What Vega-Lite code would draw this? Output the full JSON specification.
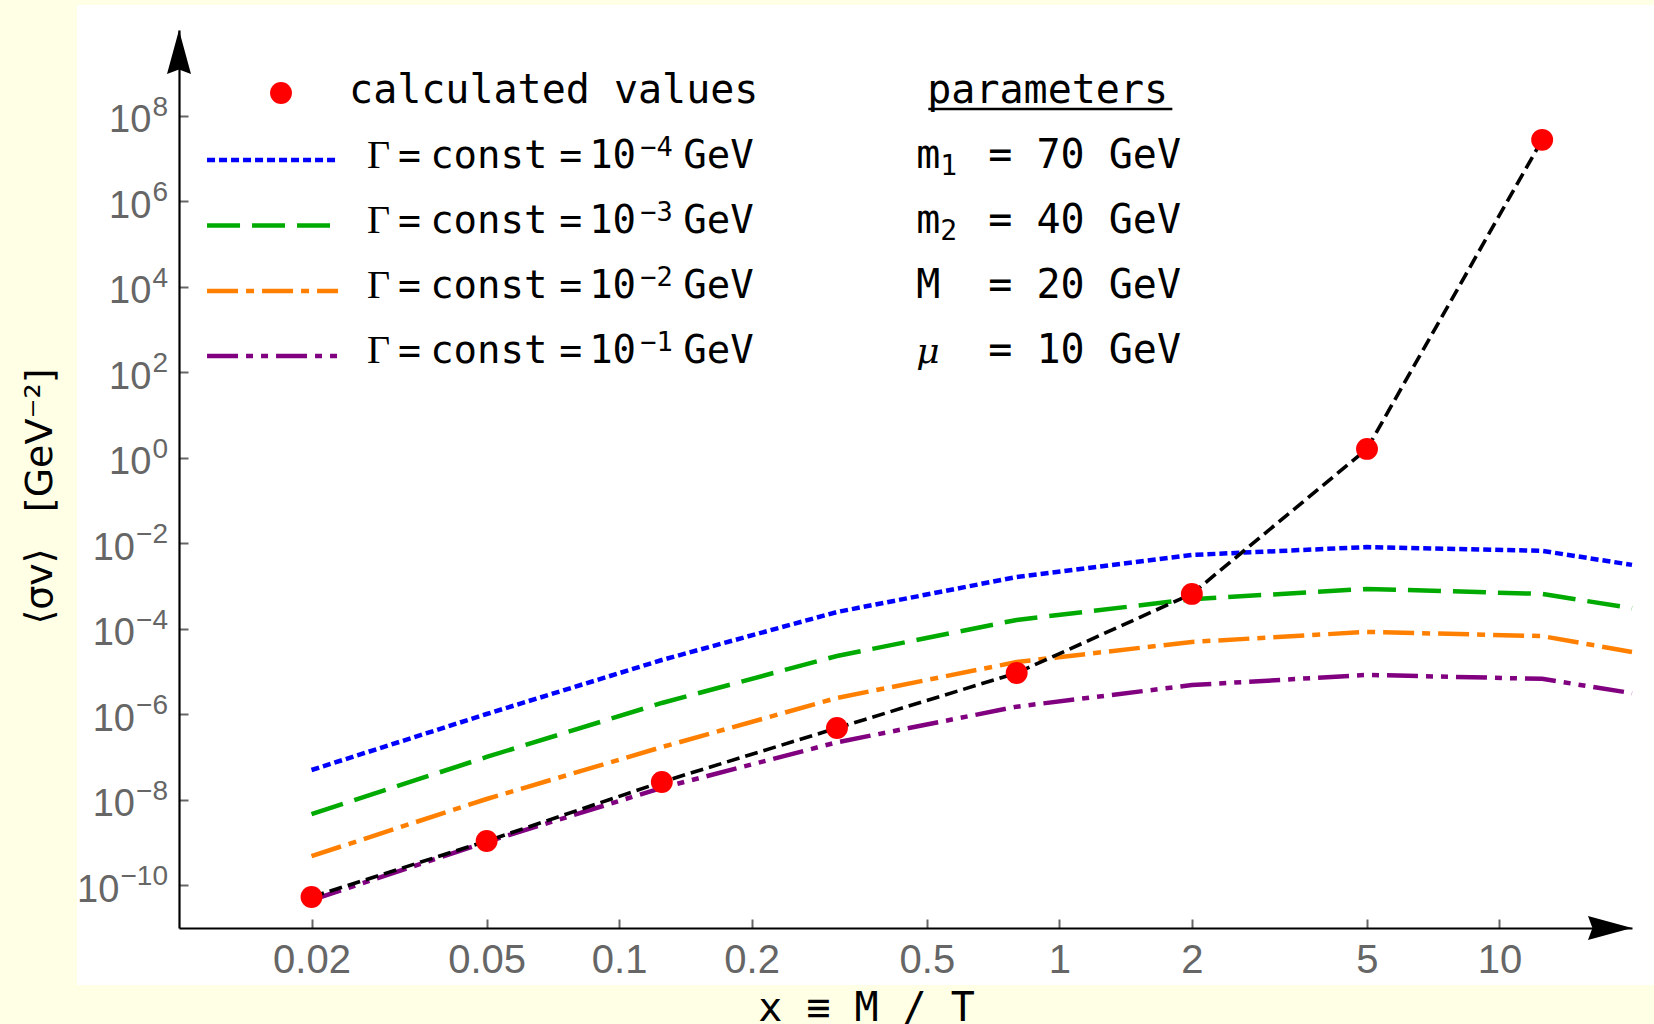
{
  "$schema": "https://vega.github.io/schema/vega-lite/v6.json",
  "width": 1453,
  "height": 898,
  "autosize": {"type": "none"},
  "padding": {"left": 179, "top": 30, "right": 22, "bottom": 96},
  "background": "#ffffe5",
  "config": {"view": {"stroke": null}, "axis": {"zindex": 1}},
  "datasets": {
    "curves": [
      {"s": "g4", "x": 0.02, "y": 4.95e-8}, {"s": "g4", "x": 0.05, "y": 1.01e-6}, {"s": "g4", "x": 0.125, "y": 1.85e-5}, {"s": "g4", "x": 0.3125, "y": 2.45e-4}, {"s": "g4", "x": 0.8, "y": 1.62e-3}, {"s": "g4", "x": 2, "y": 5.3e-3}, {"s": "g4", "x": 5, "y": 8.1e-3}, {"s": "g4", "x": 12.5, "y": 6.6e-3}, {"s": "g4", "x": 20, "y": 3.1e-3},
      {"s": "g3", "x": 0.02, "y": 4.6e-9}, {"s": "g3", "x": 0.05, "y": 1.0e-7}, {"s": "g3", "x": 0.125, "y": 1.83e-6}, {"s": "g3", "x": 0.3125, "y": 2.3e-5}, {"s": "g3", "x": 0.8, "y": 1.6e-4}, {"s": "g3", "x": 2, "y": 4.9e-4}, {"s": "g3", "x": 5, "y": 8.5e-4}, {"s": "g3", "x": 12.5, "y": 6.5e-4}, {"s": "g3", "x": 20, "y": 3.0e-4},
      {"s": "g2", "x": 0.02, "y": 4.8e-10}, {"s": "g2", "x": 0.05, "y": 1.04e-8}, {"s": "g2", "x": 0.125, "y": 1.7e-7}, {"s": "g2", "x": 0.3125, "y": 2.4e-6}, {"s": "g2", "x": 0.8, "y": 1.66e-5}, {"s": "g2", "x": 2, "y": 4.9e-5}, {"s": "g2", "x": 5, "y": 8.4e-5}, {"s": "g2", "x": 12.5, "y": 6.7e-5}, {"s": "g2", "x": 20, "y": 2.85e-5},
      {"s": "g1", "x": 0.02, "y": 4.5e-11}, {"s": "g1", "x": 0.05, "y": 1.03e-9}, {"s": "g1", "x": 0.125, "y": 1.9e-8}, {"s": "g1", "x": 0.3125, "y": 2.2e-7}, {"s": "g1", "x": 0.8, "y": 1.5e-6}, {"s": "g1", "x": 2, "y": 4.8e-6}, {"s": "g1", "x": 5, "y": 8.3e-6}, {"s": "g1", "x": 12.5, "y": 6.7e-6}, {"s": "g1", "x": 20, "y": 3.1e-6}
    ],
    "calc": [
      {"x": 0.02, "y": 5.3e-11}, {"x": 0.05, "y": 1.08e-9}, {"x": 0.125, "y": 2.6e-8}, {"x": 0.3125, "y": 4.75e-7},
      {"x": 0.8, "y": 9.2e-6}, {"x": 2, "y": 6.5e-4}, {"x": 5, "y": 1.6}, {"x": 12.5, "y": 2.7e7}
    ],
    "yt": [
      {"v": 1e8, "e": "8"}, {"v": 1e6, "e": "6"}, {"v": 1e4, "e": "4"}, {"v": 100, "e": "2"}, {"v": 1, "e": "0"},
      {"v": 1e-2, "e": "−2"}, {"v": 1e-4, "e": "−4"}, {"v": 1e-6, "e": "−6"}, {"v": 1e-8, "e": "−8"}, {"v": 1e-10, "e": "−10"}
    ],
    "leg": [
      {"s": "g4", "ly": 9.12e6, "ty": 5.93e6, "e": "−4"},
      {"s": "g3", "ly": 2.68e5, "ty": 1.79e5, "e": "−3"},
      {"s": "g2", "ly": 7.88e3, "ty": 5.41e3, "e": "−2"},
      {"s": "g1", "ly": 237.7, "ty": 163.3, "e": "−1"}
    ],
    "par": [
      {"sym": "m", "sub": "1", "rest": "= 70 GeV", "ty": 5.93e6},
      {"sym": "m", "sub": "2", "rest": "= 40 GeV", "ty": 1.79e5},
      {"sym": "M", "sub": "", "rest": "= 20 GeV", "ty": 5.41e3},
      {"sym": "μ", "sub": "", "rest": "= 10 GeV", "ty": 163.3}
    ]
  },
  "layer": [
    {
      "data": {"values": [{}]},
      "mark": {"type": "rect", "fill": "#ffffff", "clip": false},
      "encoding": {
        "x": {"datum": 0.005865, "type": "quantitative"},
        "x2": {"datum": 40},
        "y": {"datum": 3.86e10, "type": "quantitative"},
        "y2": {"datum": 4.64e-13}
      }
    },
    {
      "data": {"name": "curves"},
      "mark": {"type": "line", "strokeWidth": 4.5, "strokeCap": "butt", "clip": false},
      "encoding": {
        "x": {
          "field": "x", "type": "quantitative",
          "scale": {"type": "log", "domain": [0.01, 20], "nice": false},
          "axis": {
            "zindex": 2,
            "values": [0.02, 0.05, 0.1, 0.2, 0.5, 1, 2, 5, 10],
            "format": ".2~f",
            "labelFont": "Liberation Sans", "labelFontSize": 40, "labelColor": "#666666",
            "labelPadding": 21, "labelFlush": false, "labelOverlap": false, "labelBaseline": "top",
            "tickSize": -9, "tickColor": "#666666", "tickWidth": 2,
            "domainColor": "#000000", "domainWidth": 2.2, "grid": false,
            "title": "x ≡ M / T", "titleFont": "DejaVu Sans Mono", "titleFontSize": 40, "titleFontWeight": "normal",
            "titleColor": "#000000", "titleX": 687, "titleY": 92, "titleAlign": "center", "titleBaseline": "alphabetic"
          }
        },
        "y": {
          "field": "y", "type": "quantitative",
          "scale": {"type": "log", "domain": [1e-11, 1e10], "nice": false},
          "axis": {
            "zindex": 2,
            "values": [1e-10, 1e-8, 1e-6, 1e-4, 1e-2, 1, 100, 1e4, 1e6, 1e8],
            "labels": false,
            "tickSize": -9, "tickColor": "#666666", "tickWidth": 2,
            "domainColor": "#000000", "domainWidth": 2.2, "grid": false,
            "title": "⟨σv⟩\u00a0\u00a0\u00a0[GeV⁻²]", "titleFont": "DejaVu Sans", "titleFontSize": 38, "titleFontWeight": "normal",
            "titleColor": "#000000", "titleX": -139, "titleY": 466, "titleAngle": 270, "titleAlign": "center", "titleBaseline": "middle"
          }
        },
        "color": {"field": "s", "type": "nominal", "scale": {"domain": ["g4", "g3", "g2", "g1"], "range": ["#0000ff", "#00aa00", "#ff8000", "#800080"]}, "legend": null},
        "strokeDash": {"field": "s", "type": "nominal", "scale": {"domain": ["g4", "g3", "g2", "g1"], "range": [[8, 4], [33, 12], [31, 8, 8, 8], [31, 8, 7, 8, 7, 8]]}, "legend": null}
      }
    },
    {
      "data": {"name": "yt"},
      "transform": [{"filter": "length(datum.e) == 1"}],
      "mark": {"type": "text", "text": "10", "font": "Liberation Sans", "fontSize": 38, "fill": "#666666", "align": "right", "baseline": "alphabetic", "dx": -27.6, "dy": 16.5},
      "encoding": {"x": {"datum": 0.01, "type": "quantitative"}, "y": {"field": "v", "type": "quantitative"}}
    },
    {
      "data": {"name": "yt"},
      "transform": [{"filter": "length(datum.e) == 2"}],
      "mark": {"type": "text", "text": "10", "font": "Liberation Sans", "fontSize": 38, "fill": "#666666", "align": "right", "baseline": "alphabetic", "dx": -44, "dy": 16.5},
      "encoding": {"x": {"datum": 0.01, "type": "quantitative"}, "y": {"field": "v", "type": "quantitative"}}
    },
    {
      "data": {"name": "yt"},
      "transform": [{"filter": "length(datum.e) == 3"}],
      "mark": {"type": "text", "text": "10", "font": "Liberation Sans", "fontSize": 38, "fill": "#666666", "align": "right", "baseline": "alphabetic", "dx": -59.6, "dy": 16.5},
      "encoding": {"x": {"datum": 0.01, "type": "quantitative"}, "y": {"field": "v", "type": "quantitative"}}
    },
    {
      "data": {"name": "yt"},
      "mark": {"type": "text", "font": "Liberation Sans", "fontSize": 28, "fill": "#666666", "align": "right", "baseline": "alphabetic", "dx": -11, "dy": 0},
      "encoding": {"x": {"datum": 0.01, "type": "quantitative"}, "y": {"field": "v", "type": "quantitative"}, "text": {"field": "e"}}
    },
    {
      "data": {"name": "calc"},
      "mark": {"type": "line", "color": "#000000", "strokeWidth": 3.6, "strokeDash": [13, 6], "strokeCap": "butt"},
      "encoding": {
        "x": {"field": "x", "type": "quantitative"},
        "y": {"field": "y", "type": "quantitative"}
      }
    },
    {
      "data": {"name": "calc"},
      "mark": {"type": "point", "shape": "circle", "filled": true, "fill": "#ff0000", "opacity": 1, "size": 480},
      "encoding": {
        "x": {"field": "x", "type": "quantitative"},
        "y": {"field": "y", "type": "quantitative"}
      }
    },
    {
      "data": {"name": "leg"},
      "mark": {"type": "rule", "strokeWidth": 4.5, "strokeCap": "butt"},
      "encoding": {
        "x": {"datum": 0.01158, "type": "quantitative"},
        "x2": {"datum": 0.02298},
        "y": {"field": "ly", "type": "quantitative"},
        "color": {"field": "s", "type": "nominal", "legend": null},
        "strokeDash": {"field": "s", "type": "nominal", "legend": null}
      }
    },
    {
      "data": {"values": [{}]},
      "mark": {"type": "point", "shape": "circle", "filled": true, "fill": "#ff0000", "opacity": 1, "size": 480},
      "encoding": {
        "x": {"datum": 0.01705, "type": "quantitative"},
        "y": {"datum": 3.36e8, "type": "quantitative"}
      }
    },
    {
      "data": {"values": [{}]},
      "mark": {"type": "text", "text": "calculated values", "font": "DejaVu Sans Mono", "fontSize": 40, "align": "left", "baseline": "alphabetic", "fill": "#000000"},
      "encoding": {
        "x": {"datum": 0.02434, "type": "quantitative"},
        "y": {"datum": 1.963e8, "type": "quantitative"}
      }
    },
    {
      "data": {"name": "leg"},
      "mark": {"type": "text", "text": "Γ", "font": "Liberation Serif", "fontSize": 40, "align": "left", "baseline": "alphabetic", "fill": "#000000"},
      "encoding": {"x": {"datum": 0.02675, "type": "quantitative"}, "y": {"field": "ty", "type": "quantitative"}}
    },
    {
      "data": {"name": "leg"},
      "mark": {"type": "text", "text": "=", "font": "DejaVu Sans Mono", "fontSize": 38, "align": "left", "baseline": "alphabetic", "fill": "#000000"},
      "encoding": {"x": {"datum": 0.03146, "type": "quantitative"}, "y": {"field": "ty", "type": "quantitative"}}
    },
    {
      "data": {"name": "leg"},
      "mark": {"type": "text", "text": "const", "font": "DejaVu Sans Mono", "fontSize": 39, "align": "left", "baseline": "alphabetic", "fill": "#000000"},
      "encoding": {"x": {"datum": 0.0372, "type": "quantitative"}, "y": {"field": "ty", "type": "quantitative"}}
    },
    {
      "data": {"name": "leg"},
      "mark": {"type": "text", "text": "=", "font": "DejaVu Sans Mono", "fontSize": 38, "align": "left", "baseline": "alphabetic", "fill": "#000000"},
      "encoding": {"x": {"datum": 0.07306, "type": "quantitative"}, "y": {"field": "ty", "type": "quantitative"}}
    },
    {
      "data": {"name": "leg"},
      "mark": {"type": "text", "text": "10", "font": "DejaVu Sans Mono", "fontSize": 39, "align": "left", "baseline": "alphabetic", "fill": "#000000"},
      "encoding": {"x": {"datum": 0.08546, "type": "quantitative"}, "y": {"field": "ty", "type": "quantitative"}}
    },
    {
      "data": {"name": "leg"},
      "mark": {"type": "text", "font": "DejaVu Sans Mono", "fontSize": 27, "align": "left", "baseline": "alphabetic", "fill": "#000000", "dy": -12},
      "encoding": {"x": {"datum": 0.1116, "type": "quantitative"}, "y": {"field": "ty", "type": "quantitative"}, "text": {"field": "e"}}
    },
    {
      "data": {"name": "leg"},
      "mark": {"type": "text", "text": "GeV", "font": "DejaVu Sans Mono", "fontSize": 39, "align": "left", "baseline": "alphabetic", "fill": "#000000"},
      "encoding": {"x": {"datum": 0.1398, "type": "quantitative"}, "y": {"field": "ty", "type": "quantitative"}}
    },
    {
      "data": {"values": [{}]},
      "mark": {"type": "text", "text": "parameters", "font": "DejaVu Sans Mono", "fontSize": 40, "align": "left", "baseline": "alphabetic", "fill": "#000000"},
      "encoding": {
        "x": {"datum": 0.5012, "type": "quantitative"},
        "y": {"datum": 1.963e8, "type": "quantitative"}
      }
    },
    {
      "data": {"values": [{}]},
      "mark": {"type": "rule", "color": "#000000", "strokeWidth": 2.5},
      "encoding": {
        "x": {"datum": 0.5039, "type": "quantitative"},
        "x2": {"datum": 1.806},
        "y": {"datum": 1.42e8, "type": "quantitative"}
      }
    },
    {
      "data": {"name": "par"},
      "transform": [{"filter": "datum.sym != 'μ'"}],
      "mark": {"type": "text", "font": "DejaVu Sans Mono", "fontSize": 40, "align": "left", "baseline": "alphabetic", "fill": "#000000"},
      "encoding": {"x": {"datum": 0.4732, "type": "quantitative"}, "y": {"field": "ty", "type": "quantitative"}, "text": {"field": "sym"}}
    },
    {
      "data": {"name": "par"},
      "mark": {"type": "text", "font": "DejaVu Sans Mono", "fontSize": 28, "align": "left", "baseline": "alphabetic", "fill": "#000000", "dx": 24, "dy": 7},
      "encoding": {"x": {"datum": 0.4732, "type": "quantitative"}, "y": {"field": "ty", "type": "quantitative"}, "text": {"field": "sub"}}
    },
    {
      "data": {"name": "par"},
      "transform": [{"filter": "datum.sym == 'μ'"}],
      "mark": {"type": "text", "font": "DejaVu Serif", "fontStyle": "italic", "fontSize": 36, "align": "left", "baseline": "alphabetic", "fill": "#000000"},
      "encoding": {"x": {"datum": 0.4732, "type": "quantitative"}, "y": {"field": "ty", "type": "quantitative"}, "text": {"field": "sym"}}
    },
    {
      "data": {"name": "par"},
      "mark": {"type": "text", "font": "DejaVu Sans Mono", "fontSize": 40, "align": "left", "baseline": "alphabetic", "fill": "#000000"},
      "encoding": {"x": {"datum": 0.6898, "type": "quantitative"}, "y": {"field": "ty", "type": "quantitative"}, "text": {"field": "rest"}}
    },
    {
      "data": {"values": [{}]},
      "mark": {"type": "point", "shape": "M0,0L0.545,2L0,1.8L-0.545,2Z", "filled": true, "fill": "#000000", "strokeWidth": 0, "opacity": 1, "size": 1936},
      "encoding": {
        "x": {"datum": 0.01, "type": "quantitative"},
        "y": {"datum": 1e10, "type": "quantitative"}
      }
    },
    {
      "data": {"values": [{}]},
      "mark": {"type": "point", "shape": "M0,0L-2,-0.545L-1.8,0L-2,0.545Z", "filled": true, "fill": "#000000", "strokeWidth": 0, "opacity": 1, "size": 1936},
      "encoding": {
        "x": {"datum": 20, "type": "quantitative"},
        "y": {"datum": 1e-11, "type": "quantitative"}
      }
    }
  ]
}
